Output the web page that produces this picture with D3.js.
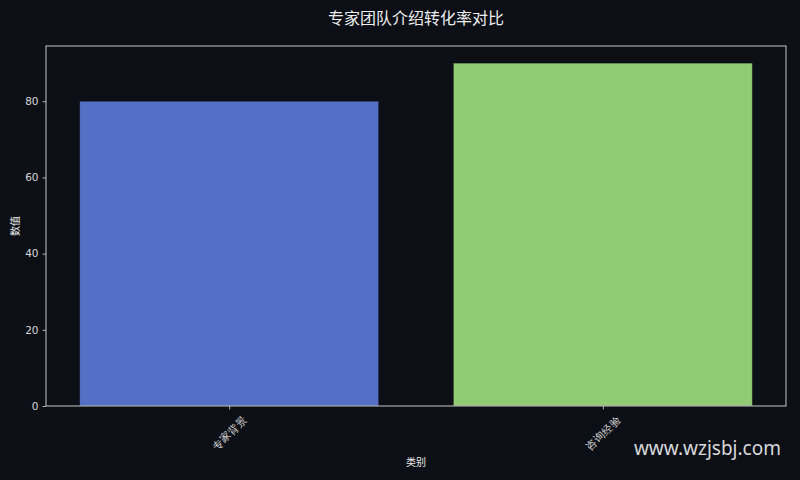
<!DOCTYPE html>
<html><head><meta charset="utf-8">
<script src="https://cdn.jsdelivr.net/npm/d3@7"></script>
<style>
html,body{margin:0;padding:0;background:#0c0f16;}
svg{display:block;font-family:"Noto Sans CJK SC","DejaVu Sans",sans-serif;}
</style></head><body>
<svg id="c" width="800" height="480"></svg>
<script>
const categories = ["专家背景", "咨询经验"];
const values = [80, 90];
const colors = ["#5470c6", "#91cc75"];
const yTicks = [0, 20, 40, 60, 80];
const title = "专家团队介绍转化率对比";

const W = 800, H = 480;
const m = {left: 46, right: 14, top: 46, bottom: 74};
const svg = d3.select("#c");
svg.append("rect").attr("width", W).attr("height", H).attr("fill", "#0c0f16");

const x = d3.scaleLinear().domain([-0.49, categories.length - 1 + 0.49]).range([m.left, W - m.right]);
const y = d3.scaleLinear().domain([0, d3.max(values) * 1.05]).range([H - m.bottom, m.top]);
const bw = x(0.8) - x(0);

svg.selectAll("rect.bar").data(values).join("rect")
  .attr("class", "bar")
  .attr("x", (d, i) => x(i) - bw / 2)
  .attr("width", bw)
  .attr("y", d => y(d))
  .attr("height", d => y(0) - y(d))
  .attr("fill", (d, i) => colors[i])
  .attr("stroke", "#000")
  .attr("stroke-opacity", 0.35)
  .attr("stroke-width", 1);

const yAxis = svg.append("g").attr("transform", `translate(${m.left},0)`)
  .call(d3.axisLeft(y).tickValues(yTicks).tickSize(3.5).tickPadding(4));
yAxis.select(".domain").remove();
yAxis.selectAll("line").attr("stroke", "#b0b0b0");
yAxis.selectAll("text").attr("fill", "#d8d8d8").style("font-size", "10.5px").style("font-family", "'DejaVu Sans',sans-serif");

const xAxis = svg.append("g").attr("transform", `translate(0,${y(0)})`)
  .call(d3.axisBottom(x).tickValues(categories.map((c, i) => i)).tickFormat(i => categories[i]).tickSize(3.5).tickPadding(3));
xAxis.select(".domain").remove();
xAxis.selectAll("line").attr("stroke", "#b0b0b0");
xAxis.selectAll("text")
  .attr("fill", "#d8d8d8").style("font-size", "10.5px")
  .attr("text-anchor", "middle")
  .attr("y", 0).attr("dy", "0.35em")
  .attr("transform", "translate(0,27) rotate(-45)");

// spines
const x0 = m.left, x1 = W - m.right, y0 = m.top, y1 = H - m.bottom;
svg.append("rect").attr("x", x0).attr("y", y0).attr("width", x1 - x0).attr("height", y1 - y0)
  .attr("fill", "none").attr("stroke", "#c8c8c8").attr("stroke-width", 1);

svg.append("text").attr("x", (x0 + x1) / 2).attr("y", 24).attr("text-anchor", "middle")
  .attr("fill", "#eeeeee").style("font-size", "16px").text(title);
svg.append("text").attr("x", (x0 + x1) / 2).attr("y", 466).attr("text-anchor", "middle")
  .attr("fill", "#eeeeee").style("font-size", "10px").text("类别");
svg.append("text").attr("transform", `translate(19,${(y0 + y1) / 2}) rotate(-90)`).attr("text-anchor", "middle")
  .attr("fill", "#eeeeee").style("font-size", "10px").text("数值");

svg.append("text").attr("x", 781).attr("y", 455).attr("text-anchor", "end")
  .attr("fill", "#ffffff").attr("fill-opacity", 0.85).style("font-size", "19px")
  .style("font-family", "'Noto Sans','DejaVu Sans',sans-serif").text("www.wzjsbj.com");
</script></body></html>
